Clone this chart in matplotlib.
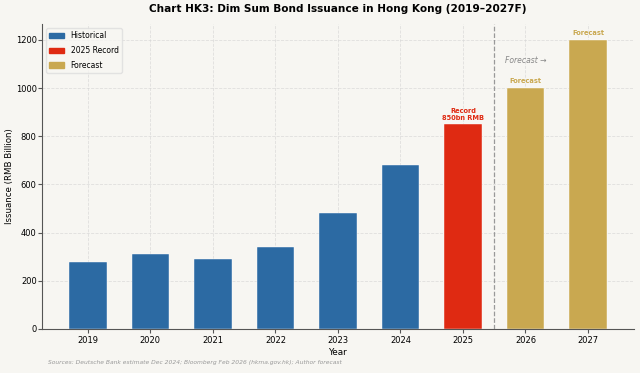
import numpy as np
import matplotlib.pyplot as plt
from matplotlib.patches import Patch

# Dim sum bond issuance, RMB billion
years = ["2019", "2020", "2021", "2022", "2023", "2024", "2025", "2026", "2027"]
issuance = [280, 310, 290, 340, 480, 680, 850, 1000, 1200]
kind = ["hist", "hist", "hist", "hist", "hist", "hist", "record", "fcst", "fcst"]

BLUE = "#2c6aa3"
RED = "#df2a12"
GOLD = "#c9a850"
BG = "#f7f6f2"
colors = {"hist": BLUE, "record": RED, "fcst": GOLD}

fig, ax = plt.subplots(figsize=(6.4, 3.73), dpi=100)
fig.patch.set_facecolor(BG)
ax.set_facecolor(BG)

x = np.arange(len(years))
bars = ax.bar(x, issuance, width=0.6, color=[colors[k] for k in kind],
              edgecolor="white", linewidth=0.3, zorder=2)

ax.grid(True, linestyle="--", linewidth=0.6, color="#d5d5d5", alpha=0.7, zorder=0)
ax.set_axisbelow(True)

# annotations above the record / forecast bars
ax.text(x[6], issuance[6] + 15, "Record\n850bn RMB", ha="center", va="bottom",
        fontsize=4.8, fontweight="bold", color=RED, linespacing=1.1)
for i in (7, 8):
    ax.text(x[i], issuance[i] + 15, "Forecast", ha="center", va="bottom",
            fontsize=4.8, fontweight="bold", color=GOLD)

ax.axvline(6.5, color="#999999", linestyle="--", linewidth=0.9, zorder=4)
ax.text(7.0, 1116, "Forecast \u2192", ha="center", va="center", fontsize=5.5,
        style="italic", color="#888888")

ax.set_xticks(x)
ax.set_xticklabels(years)
ax.tick_params(axis="both", labelsize=6, length=3, color="#555555")
ax.tick_params(axis="y", pad=1)
ax.tick_params(axis="x", pad=2)
ax.set_ylim(0, 1265)
ax.set_xlabel("Year", fontsize=6.4, labelpad=2)
ax.set_ylabel("Issuance (RMB Billion)", fontsize=6.2)
ax.yaxis.set_label_coords(-0.047, 0.5)
ax.set_title("Chart HK3: Dim Sum Bond Issuance in Hong Kong (2019\u20132027F)",
             fontsize=7.6, fontweight="bold", pad=9)

for s in ("top", "right"):
    ax.spines[s].set_visible(False)
for s in ("left", "bottom"):
    ax.spines[s].set_color("#555555")

handles = [Patch(color=BLUE, label="Historical"),
           Patch(color=RED, label="2025 Record"),
           Patch(color=GOLD, label="Forecast")]
leg = ax.legend(handles=handles, loc="upper left", fontsize=5.5, labelspacing=0.75,
                frameon=True, framealpha=0.8, edgecolor="#dddddd")
leg.get_frame().set_facecolor(BG)

fig.text(0.075, 0.024, "Sources: Deutsche Bank estimate Dec 2024; Bloomberg Feb 2026 (hkma.gov.hk); Author forecast",
         fontsize=4.3, style="italic", color="#999999")

fig.subplots_adjust(left=0.066, right=0.99, top=0.935, bottom=0.118)
plt.savefig("out.png", dpi=100, facecolor=BG)
plt.close()
